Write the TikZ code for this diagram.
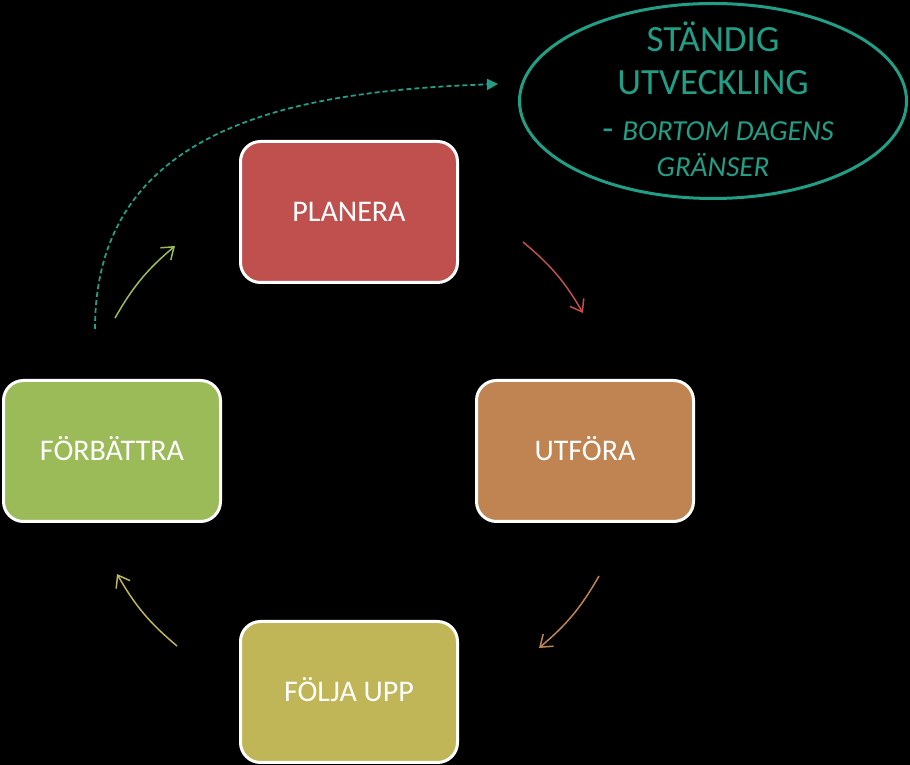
\documentclass[tikz,border=0pt]{standalone}
\usepackage{fontspec}
\setmainfont{Carlito}
\usetikzlibrary{arrows.meta,shapes.geometric}
\definecolor{cred}{RGB}{192,80,77}
\definecolor{corange}{RGB}{192,132,82}
\definecolor{colive}{RGB}{192,181,87}
\definecolor{cgreen}{RGB}{155,187,89}
\definecolor{cteal}{RGB}{33,158,134}
\tikzset{
  stepbox/.style={rectangle, rounded corners=20pt, draw=white, line width=3pt,
    minimum width=217pt, minimum height=141pt, text=white,
    font=\fontsize{30}{36}\selectfont, text height=19.3pt, text depth=0pt},
  cyclearrow/.style={line width=1.5pt, -{Straight Barb[length=11pt,width=16pt,line width=1.5pt]}, bend left=10},
  goaltext/.style={text=cteal, anchor=base, inner sep=0pt}
}
\begin{document}
\begin{tikzpicture}[x=1pt,y=1pt]
\fill[black] (0,0) rectangle (910,765);
\useasboundingbox (0,0) rectangle (910,765);
\node[stepbox, fill=cred] (plan) at (349,553) {PLANERA};
\node[stepbox, fill=corange] (do) at (585,314) {UTFÖRA};
\node[stepbox, fill=colive] (check) at (349,73) {FÖLJA UPP};
\node[stepbox, fill=cgreen] (act) at (112,314) {FÖRBÄTTRA};
\node[ellipse, draw=cteal, line width=3pt, minimum width=387pt, minimum height=195pt] (goal) at (713,664) {};
\node[goaltext, font=\fontsize{37}{40}\selectfont] (g1) at (713,713.5) {STÄNDIG};
\node[goaltext, font=\fontsize{37}{40}\selectfont] (g2) at (713,670.5) {UTVECKLING};
\node[goaltext] (g3) at (718,624.3) {{\fontsize{36}{40}\selectfont -}\hspace{9pt}{\fontsize{29}{32}\selectfont\itshape BORTOM DAGENS}};
\node[goaltext, font=\fontsize{29}{32}\selectfont\itshape] (g4) at (713,588.3) {GRÄNSER};
\coordinate (r1) at (523,523); \coordinate (r2) at (583,452);
\coordinate (o1) at (599,189); \coordinate (o2) at (539,117);
\coordinate (y1) at (177,119); \coordinate (y2) at (117,191);
\coordinate (v1) at (115,447); \coordinate (v2) at (175,519);
\coordinate (d1) at (95,436); \coordinate (d2) at (498,681);
\draw[cyclearrow, cred] (r1) to (r2);
\draw[cyclearrow, corange] (o1) to (o2);
\draw[cyclearrow, colive] (y1) to (y2);
\draw[cyclearrow, cgreen] (v1) to (v2);
\draw[cteal, line width=1.8pt, dash pattern=on 5pt off 3pt, -{Triangle[length=11pt,width=11pt]}] (d1) to[out=90, in=182, looseness=1.1] (d2);
\end{tikzpicture}
\end{document}
